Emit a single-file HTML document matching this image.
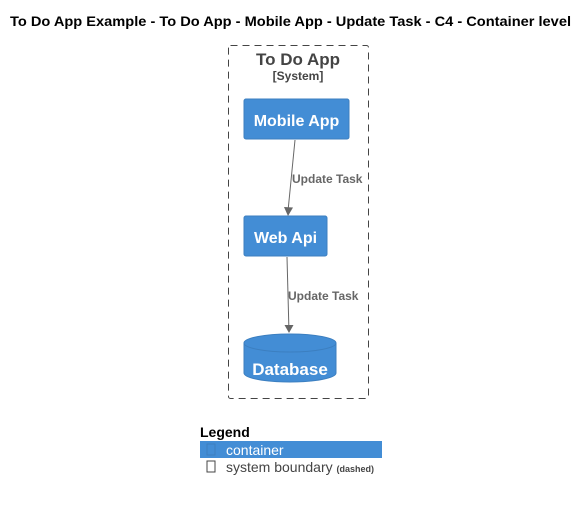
<!DOCTYPE html>
<html><head><style>body{margin:0;background:#fff}</style></head><body>
<svg width="588" height="501" xmlns="http://www.w3.org/2000/svg" font-family="Liberation Sans, Arial, sans-serif">
<rect width="588" height="501" fill="#fff"/>
<text x="10" y="26" textLength="561" lengthAdjust="spacingAndGlyphs" font-size="14" font-weight="bold" fill="#000">To Do App Example - To Do App - Mobile App - Update Task - C4 - Container level</text>
<rect x="228.5" y="45.5" width="140" height="353" rx="2" fill="none" stroke="#444" stroke-dasharray="7,5"/>
<text x="298" y="65" text-anchor="middle" font-size="17" font-weight="bold" fill="#444" style="font-weight:600">To Do App</text>
<text x="298" y="80" text-anchor="middle" font-size="12" font-weight="bold" fill="#444">[System]</text>
<rect x="244" y="99" width="105" height="40" rx="2" fill="#438dd5" stroke="#3c7fc0"/>
<text x="296.5" y="126" text-anchor="middle" font-size="16" font-weight="bold" fill="#fff">Mobile App</text>
<rect x="244" y="216" width="83" height="40" rx="2" fill="#438dd5" stroke="#3c7fc0"/>
<text x="285.5" y="243" text-anchor="middle" font-size="16" font-weight="bold" fill="#fff">Web Api</text>
<line x1="295" y1="140" x2="288.3" y2="208" stroke="#666"/>
<polygon points="284,207 293,207.5 288,216" fill="#666"/>
<text x="292" y="183" font-size="12" font-weight="bold" fill="#666">Update Task</text>
<line x1="287" y1="257" x2="288.8" y2="325" stroke="#666"/>
<polygon points="284.5,325 293.5,325 289,333" fill="#666"/>
<text x="288" y="300" font-size="12" font-weight="bold" fill="#666">Update Task</text>
<path d="M244,343 A46,9 0 0 1 336,343 L336,373 A46,9 0 0 1 244,373 Z" fill="#438dd5" stroke="#3c7fc0"/>
<path d="M244,343 A46,9 0 0 0 336,343" fill="none" stroke="#3c7fc0"/>
<text x="290" y="375" text-anchor="middle" font-size="17" font-weight="bold" fill="#fff">Database</text>
<text x="200" y="437" font-size="14" font-weight="bold" fill="#000">Legend</text>
<rect x="200" y="441" width="182" height="17" fill="#438dd5"/>
<rect x="207" y="444" width="8" height="11" fill="none" stroke="#3c7fc0"/>
<text x="226" y="455" font-size="14" fill="#fff">container</text>
<rect x="207" y="461" width="8" height="11" fill="none" stroke="#444"/>
<text x="226" y="472" font-size="14" fill="#444">system boundary <tspan font-size="9" font-weight="bold">(dashed)</tspan></text>
</svg>
</body></html>
